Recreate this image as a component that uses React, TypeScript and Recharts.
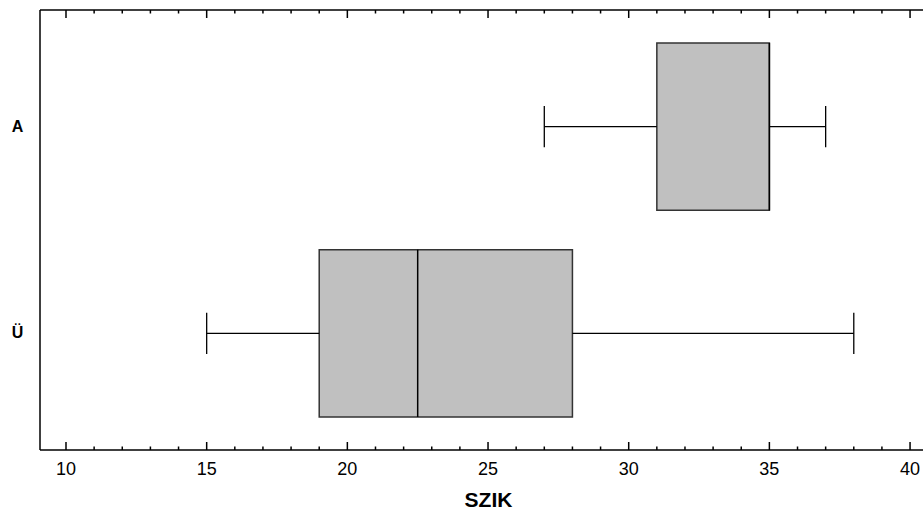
import React from 'react';
import { ComposedChart, XAxis, YAxis, Scatter, ReferenceArea, ReferenceLine, Label } from 'recharts';

// box plot values (top row first)
const categories = ['A', 'Ü'];
const whiskerLow = [27, 15];
const q1 = [31, 19];
const median = [35, 22.5];
const q3 = [35, 28];
const whiskerHigh = [37, 38];

const majorTicks = [10, 15, 20, 25, 30, 35, 40];
const allTicks = [10, 11, 12, 13, 14, 15, 16, 17, 18, 19, 20, 21, 22, 23, 24, 25, 26, 27, 28, 29, 30, 31, 32, 33, 34, 35, 36, 37, 38, 39, 40];

const FONT = '"Liberation Sans", Arial, sans-serif';
const BOX_HALF = 0.405;
const CAP_HALF = 0.1;

// A sits on top, so it gets the higher y value
const rows = categories.map((name, i) => ({
  name,
  y: categories.length - 1 - i,
  low: whiskerLow[i],
  q1: q1[i],
  median: median[i],
  q3: q3[i],
  high: whiskerHigh[i],
}));

const BottomTick = (props: any) => {
  const { x, y, payload } = props;
  const major = majorTicks.includes(payload.value);
  return (
    <g>
      <line x1={x} x2={x} y1={y} y2={y - (major ? 8 : 3.5)} stroke="#000" strokeWidth={1.5} />
      {major && (
        <text x={x} y={y + 25} textAnchor="middle" fontSize={18} fontFamily={FONT} fill="#000">
          {payload.value}
        </text>
      )}
    </g>
  );
};

const TopTick = (props: any) => {
  const { x, y, payload } = props;
  const major = majorTicks.includes(payload.value);
  return <line x1={x} x2={x} y1={y} y2={y + (major ? 8 : 3.5)} stroke="#000" strokeWidth={1.5} />;
};

const LeftTick = (props: any) => {
  const { y, payload } = props;
  const row = rows.find((r) => r.y === payload.value);
  return (
    <text x={17.5} y={y + 5} textAnchor="middle" fontSize={16} fontWeight="bold" fontFamily={FONT} fill="#000">
      {row ? row.name : ''}
    </text>
  );
};

export default function App() {
  return (
    <div style={{ position: 'absolute', left: 0, top: 0, background: '#fff' }}>
      <ComposedChart width={923} height={512} margin={{ top: 9, right: 0, bottom: 0, left: 0 }}>
        <XAxis
          type="number"
          dataKey="median"
          domain={[9.076, 40.46]}
          allowDataOverflow
          ticks={allTicks}
          interval={0}
          tickSize={0}
          tickMargin={0}
          tickLine={false}
          tick={<BottomTick />}
          axisLine={{ stroke: '#000', strokeWidth: 1.5 }}
          height={62}
        >
          <Label
            value="SZIK"
            position="insideBottom"
            offset={5}
            dx={7}
            style={{ fontSize: 21, fontWeight: 'bold', fontFamily: FONT, fill: '#000' }}
          />
        </XAxis>
        <XAxis
          xAxisId="top"
          orientation="top"
          type="number"
          dataKey="median"
          domain={[9.076, 40.46]}
          allowDataOverflow
          ticks={allTicks}
          interval={0}
          tickSize={0}
          tickMargin={0}
          tickLine={false}
          tick={<TopTick />}
          axisLine={{ stroke: '#000', strokeWidth: 1.5 }}
          height={1}
        />
        <YAxis
          type="number"
          dataKey="y"
          domain={[-0.5646, 1.5646]}
          allowDataOverflow
          ticks={[0, 1]}
          interval={0}
          tickSize={0}
          tickMargin={0}
          tickLine={false}
          tick={<LeftTick />}
          axisLine={{ stroke: '#000', strokeWidth: 1.5 }}
          width={40}
        />

        {rows.map((r) => (
          <ReferenceLine
            key={`wl-${r.name}`}
            segment={[{ x: r.low, y: r.y }, { x: r.q1, y: r.y }]}
            stroke="#000"
            strokeWidth={1.3}
          />
        ))}
        {rows.map((r) => (
          <ReferenceLine
            key={`wh-${r.name}`}
            segment={[{ x: r.q3, y: r.y }, { x: r.high, y: r.y }]}
            stroke="#000"
            strokeWidth={1.3}
          />
        ))}
        {rows.map((r) => (
          <ReferenceLine
            key={`cl-${r.name}`}
            segment={[{ x: r.low, y: r.y - CAP_HALF }, { x: r.low, y: r.y + CAP_HALF }]}
            stroke="#000"
            strokeWidth={1.3}
          />
        ))}
        {rows.map((r) => (
          <ReferenceLine
            key={`ch-${r.name}`}
            segment={[{ x: r.high, y: r.y - CAP_HALF }, { x: r.high, y: r.y + CAP_HALF }]}
            stroke="#000"
            strokeWidth={1.3}
          />
        ))}
        {rows.map((r) => (
          <ReferenceArea
            key={`box-${r.name}`}
            x1={r.q1}
            x2={r.q3}
            y1={r.y - BOX_HALF}
            y2={r.y + BOX_HALF}
            fill="#c0c0c0"
            fillOpacity={1}
            stroke="#333"
            strokeWidth={1.5}
          />
        ))}
        {rows.map((r) => (
          <ReferenceLine
            key={`med-${r.name}`}
            segment={[{ x: r.median, y: r.y - BOX_HALF }, { x: r.median, y: r.y + BOX_HALF }]}
            stroke="#000"
            strokeWidth={1.5}
          />
        ))}
        <Scatter data={rows} dataKey="y" shape={() => <g />} isAnimationActive={false} />
      </ComposedChart>
    </div>
  );
}
